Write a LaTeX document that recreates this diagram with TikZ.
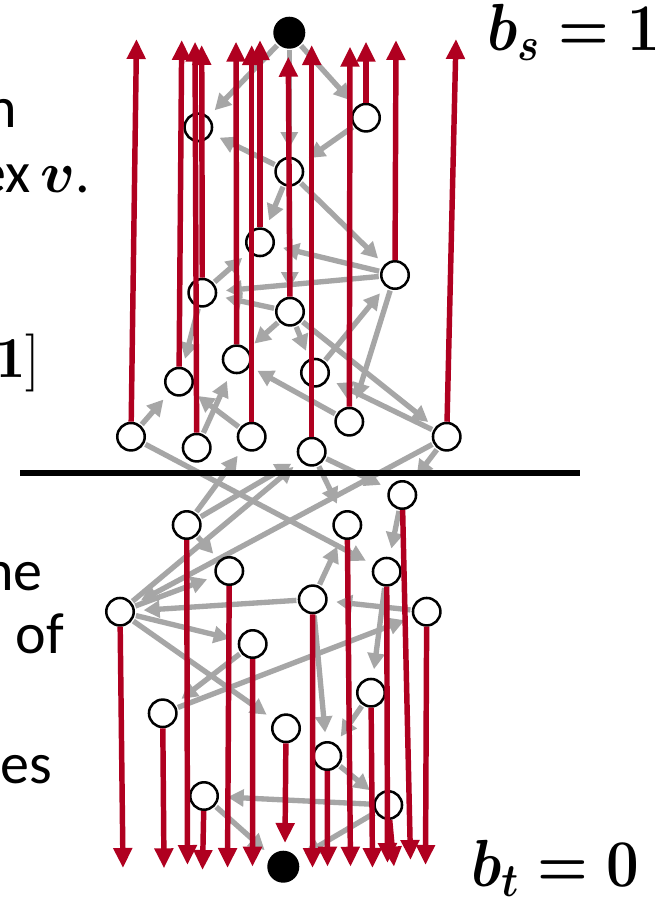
\RequirePackage{fix-cm}
\documentclass[tikz,border=0pt]{standalone}
\usepackage{fontspec}
\usepackage{amsmath,bm,graphicx}
\newfontfamily\slidefont{Carlito}
\usetikzlibrary{arrows.meta}
\definecolor{redarrow}{RGB}{176,0,32}
\definecolor{grayarrow}{RGB}{166,166,166}
\pgfdeclarelayer{back}
\pgfdeclarelayer{bg}
\pgfsetlayers{back,bg,main}
\begin{document}
\begin{tikzpicture}[x=0.75pt,y=-0.75pt,
  vtx/.style={circle,draw=black,fill=white,line width=1.9pt,minimum size=20.6pt,inner sep=0pt},
  term/.style={circle,fill=black,minimum size=24pt,inner sep=0pt},
  gedge/.style={draw=grayarrow,line width=4pt,-{Triangle[width=12.5pt,length=12pt]},shorten >=6.5pt,shorten <=1pt},
  redge/.style={draw=redarrow,line width=4.1pt,-{Triangle[width=13.5pt,length=15pt]}},
  sidetext/.style={font=\slidefont\fontsize{43.5}{50}\selectfont,inner sep=0pt},
  bvar/.style={font=\fontsize{50}{56}\selectfont\boldmath,inner sep=0pt}
]
\useasboundingbox (0,0) rectangle (663,901);
\begin{pgfonlayer}{back}
  \fill[white] (0,0) rectangle (663,901);
\end{pgfonlayer}

% terminals
\node[term] (s) at (289.3,32.7) {};
\node[term] (t) at (283.3,866.7) {};

% top vertices
\node[vtx] (n1) at (198.3,127.3) {};
\node[vtx] (n2) at (366,117.7) {};
\node[vtx] (n3) at (289.3,171.7) {};
\node[vtx] (n4) at (260,242.3) {};
\node[vtx] (n5) at (395,275) {};
\node[vtx] (n6) at (202.3,292.7) {};
\node[vtx] (n7) at (290,311.7) {};
\node[vtx] (n8) at (236.7,359.3) {};
\node[vtx] (n9) at (315,372.7) {};
\node[vtx] (n10) at (179,381.7) {};
\node[vtx] (n11) at (131,436.7) {};
\node[vtx] (n12) at (196.7,447.7) {};
\node[vtx] (n13) at (251.7,436.7) {};
\node[vtx] (n14) at (311.7,451.7) {};
\node[vtx] (n15) at (349.3,421.7) {};
\node[vtx] (n16) at (446.7,436.7) {};

% bottom vertices
\node[vtx] (m1) at (402.3,495) {};
\node[vtx] (m2) at (186.7,525) {};
\node[vtx] (m3) at (347.3,525) {};
\node[vtx] (m4) at (229.3,571) {};
\node[vtx] (m5) at (386.7,571.7) {};
\node[vtx] (m6) at (120,611.7) {};
\node[vtx] (m7) at (312.7,599.3) {};
\node[vtx] (m8) at (426.7,611.7) {};
\node[vtx] (m9) at (252.7,644) {};
\node[vtx] (m10) at (371,692.7) {};
\node[vtx] (m11) at (162.7,713.3) {};
\node[vtx] (m12) at (286,728.3) {};
\node[vtx] (m13) at (327.3,756) {};
\node[vtx] (m14) at (204,796) {};
\node[vtx] (m15) at (388.3,805) {};

% cut line ends
\coordinate (cutL) at (20,472.7);
\coordinate (cutR) at (580,472.7);

\begin{pgfonlayer}{bg}
  \foreach \a/\b in {s/n1,s/n2,s/n3,n2/n3,n3/n1,n3/n4,n3/n5,n3/n7,n5/n4,n5/n6,
      n6/n4,n7/n6,n6/n10,n7/n8,n7/n9,n7/n16,n9/n5,n5/n15,n11/n10,n12/n8,
      n13/n10,n15/n8,n16/n9,
      n11/m5,m2/n13,m2/n14,m6/n14,n14/m3,n14/m1,n16/m1,n16/m6,
      m2/m4,m6/m4,m7/m6,m6/m9,m6/m12,m7/m3,m8/m7,m1/m5,m5/m10,m11/m8,
      m9/m11,m7/m13,m10/m13,m13/m15,m15/m14,m14/t,m15/t}
    \draw[gedge] (\a) -- (\b);
  \draw[line width=4.8pt,black] (cutL) -- (cutR);
\end{pgfonlayer}

% red arrow tips (top)
\coordinate (r11) at (136.5,39);
\coordinate (r10) at (181.7,40);
\coordinate (r12) at (195,41.7);
\coordinate (r6) at (201.7,45);
\coordinate (r8) at (236,41.7);
\coordinate (r13) at (251.7,45);
\coordinate (r4) at (260,40);
\coordinate (r7) at (288.3,56.7);
\coordinate (r14) at (311.7,45);
\coordinate (r15) at (350,46.7);
\coordinate (r2) at (366,41.7);
\coordinate (r5) at (396,40);
\coordinate (r16) at (456,39);
\foreach \v in {11,10,12,6,8,13,4,7,14,15,2,5,16}
  \draw[redge] (n\v) -- (r\v);

% red arrow tips (bottom)
\coordinate (q6) at (123,868);
\coordinate (q11) at (164,868.3);
\coordinate (q2) at (187.5,865);
\coordinate (q14) at (202.5,870);
\coordinate (q4) at (227.5,868);
\coordinate (q9) at (252.5,866.7);
\coordinate (q12) at (285,843);
\coordinate (q7) at (312.5,868);
\coordinate (q13) at (327.5,866.7);
\coordinate (q3) at (350.5,866.7);
\coordinate (q10) at (372.5,868);
\coordinate (q5) at (387.5,863);
\coordinate (q15) at (394,866.7);
\coordinate (q1) at (410.5,860);
\coordinate (q8) at (425.5,865);
\foreach \v in {6,11,2,14,4,9,12,7,13,3,10,5,15,1,8}
  \draw[redge] (m\v) -- (q\v);

% labels
\node[bvar,anchor=base west] (bs) at (487,50) {\scalebox{0.87}[1]{$b_s = 1$}};
\node[bvar,anchor=base west] (bt) at (471,886) {\scalebox{0.87}[1]{$b_t = 0$}};

\begin{scope}
\clip (0,0) rectangle (663,901);
\node[sidetext,anchor=base east] (tx1) at (17,127) {n};
\node[sidetext,anchor=base east] (tx2) at (90,192) {ex\kern-3pt\ $\bm{v}$.};
\node[sidetext,anchor=base east] (tx3) at (40.5,377) {$\mathbf{1}]$};
\node[sidetext,anchor=base east] (tx4) at (43,590) {ne};
\node[sidetext,anchor=base east] (tx5) at (64,653) {e of};
\node[sidetext,anchor=base east] (tx6) at (52,783) {es};
\end{scope}
\end{tikzpicture}
\end{document}
